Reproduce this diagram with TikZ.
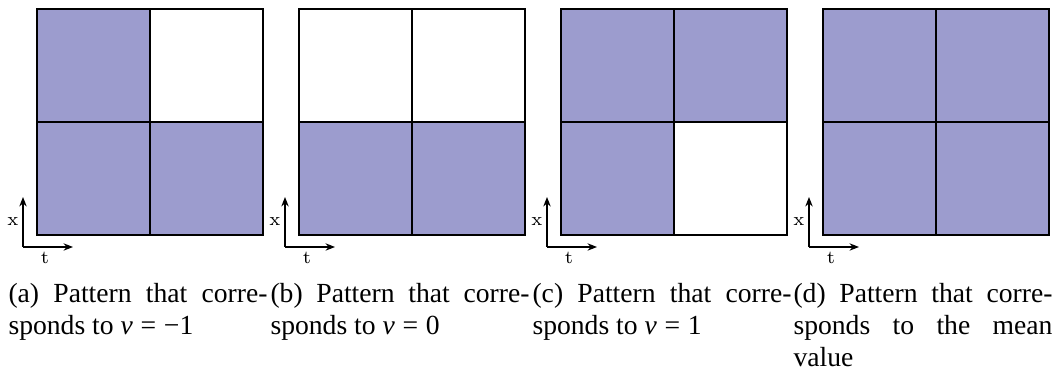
\documentclass[tikz,border=0pt]{standalone}
\usepackage{fontspec}
\setmainfont{Liberation Serif}
\usetikzlibrary{arrows.meta}
\definecolor{cellfill}{RGB}{156,156,206}
\newcommand{\thk}{\hspace{0.28em}}
\begin{document}
\begin{tikzpicture}[x=0.38pt,y=-0.38pt,
  cellbase/.style={draw=black,line width=0.5pt},
  cellon/.style={cellbase,fill=cellfill},
  celloff/.style={cellbase,fill=white},
  axisarrow/.style={-{Stealth[length=3.6pt,width=2.8pt]},line width=0.45pt},
  axlabel/.style={font=\usefont{OT1}{cmr}{m}{n}\fontsize{7}{8}\selectfont,inner sep=0pt},
  captext/.style={anchor=north west,inner sep=0pt,text width=98.4pt,align=justify,font=\fontsize{10.5}{12.2}\selectfont}]
\useasboundingbox (0,0) rectangle (1052,372);
\foreach \k/\tl/\tr/\bl/\br in {0/cellon/celloff/cellon/cellon,1/celloff/celloff/cellon/cellon,2/cellon/cellon/cellon/celloff,3/cellon/cellon/cellon/cellon}{
  \begin{scope}[xshift=\k*99.56pt]
    \draw[\tl] (37,9) rectangle (150,122);
    \draw[\tr] (150,9) rectangle (263,122);
    \draw[\bl] (37,122) rectangle (150,235);
    \draw[\br] (150,122) rectangle (263,235);
    \coordinate (o\k) at (23,247);
    \coordinate (xe\k) at (23,197);
    \coordinate (te\k) at (73,247);
    \draw[axisarrow] (o\k) -- (xe\k);
    \draw[axisarrow] (o\k) -- (te\k);
    \node[axlabel] (xl\k) at (13,222) {x};
    \node[axlabel] (tl\k) at (45,258) {t};
  \end{scope}
}
\node[captext] (ca) at (8,283) {(a) Pattern that corre-\linebreak sponds to \textit{v}\thk=\thk−1};
\node[captext] (cb) at (270,283) {(b) Pattern that corre-\linebreak sponds to \textit{v}\thk=\thk0};
\node[captext] (cc) at (532,283) {(c) Pattern that corre-\linebreak sponds to \textit{v}\thk=\thk1};
\node[captext] (cd) at (793,283) {(d) Pattern that corre-\linebreak sponds to the mean\linebreak value};
\end{tikzpicture}
\end{document}
